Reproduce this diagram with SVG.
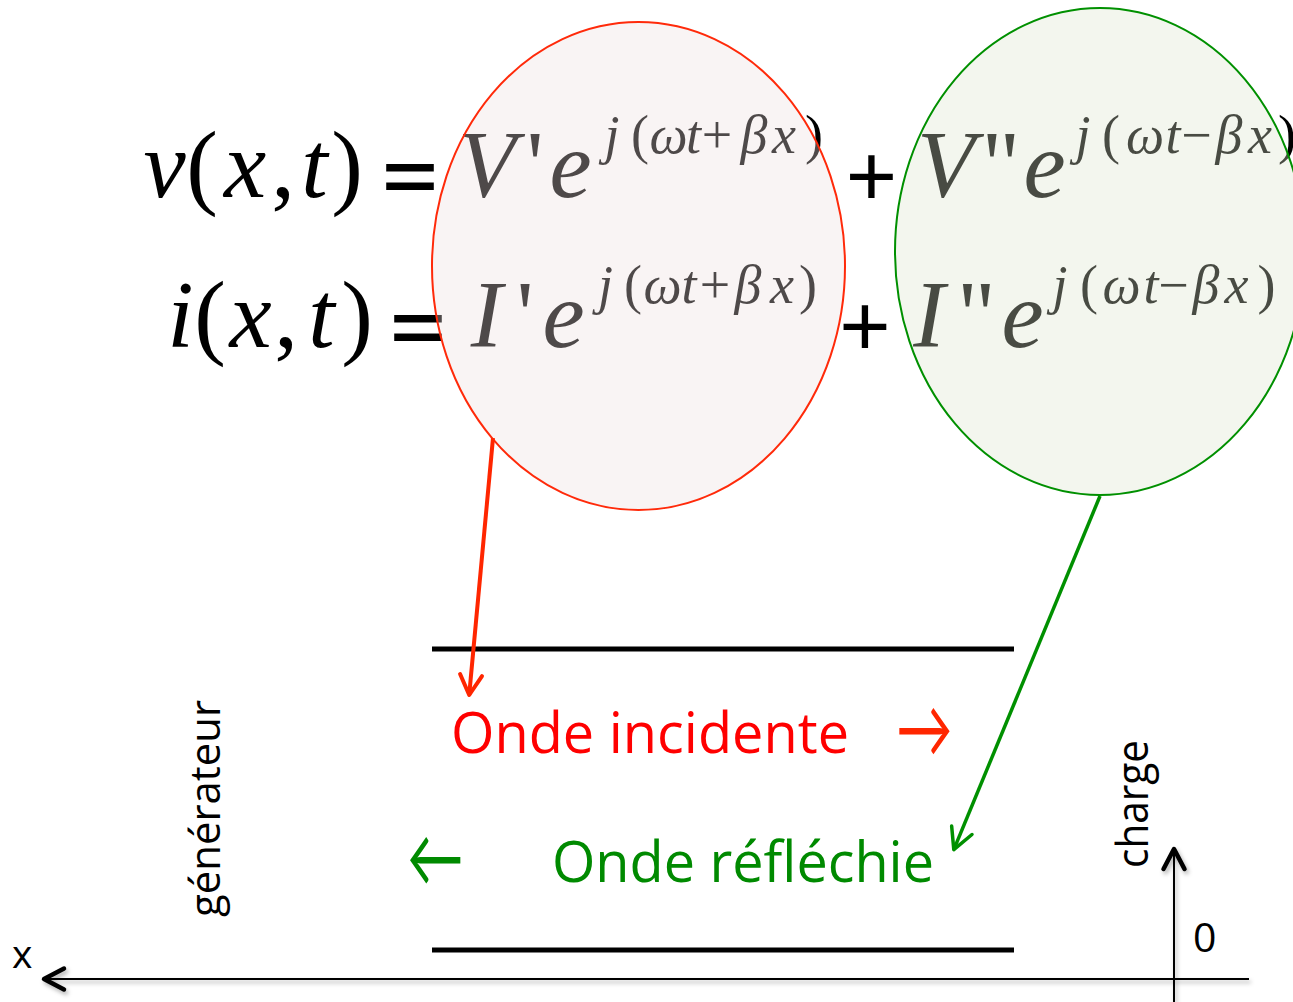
<svg xmlns="http://www.w3.org/2000/svg" width="1293" height="1002" viewBox="0 0 1293 1002">
<style>
.eq{font-family:"Liberation Serif","Times New Roman",serif;fill:#000;text-anchor:middle}
.b{font-size:95px}
.s{font-size:54px}
.it{font-style:italic}
.eqop{font-family:"Liberation Sans",Arial,sans-serif;font-weight:bold;font-size:95px;text-anchor:middle;fill:#000}
.plus{font-family:"Liberation Sans",Arial,sans-serif;font-size:88px;text-anchor:middle;fill:#000}
.lbl{font-family:"Open Sans","Noto Sans",sans-serif}
.arr{font-family:Lato,Inter,sans-serif;font-size:60px}
.wire{stroke:#000;stroke-width:5;fill:none}
</style>
<defs>
<marker id="chev-red" markerUnits="userSpaceOnUse" markerWidth="30" markerHeight="30" viewBox="-26 -15 30 30" refX="0" refY="0" orient="auto">
<path d="M-20,-11 L0,0 L-20,11" fill="none" stroke="#ff2600" stroke-width="4" stroke-linecap="round" stroke-linejoin="round"/>
</marker>
<marker id="chev-green" markerUnits="userSpaceOnUse" markerWidth="30" markerHeight="30" viewBox="-26 -15 30 30" refX="0" refY="0" orient="auto">
<path d="M-21,-11 L0,0 L-21,11" fill="none" stroke="#009000" stroke-width="3.5" stroke-linecap="round" stroke-linejoin="round"/>
</marker>
<marker id="chev-black" markerUnits="userSpaceOnUse" markerWidth="30" markerHeight="30" viewBox="-26 -15 30 30" refX="0" refY="0" orient="auto">
<path d="M-20,-10.5 L0,0 L-20,10.5" fill="none" stroke="#000" stroke-width="4.5" stroke-linecap="round" stroke-linejoin="round"/>
</marker>
<filter id="shadow" x="-5%" y="-20%" width="110%" height="140%">
<feDropShadow dx="2" dy="3" stdDeviation="2" flood-color="#000" flood-opacity="0.3"/>
</filter>
</defs>

<g id="equations">
<text class="eq b" y="197"><tspan class="it" x="164.5">v</tspan><tspan x="202">(</tspan><tspan class="it" x="245">x</tspan><tspan x="283">,</tspan><tspan class="it" x="314.5">t</tspan><tspan x="347">)</tspan></text>
<text class="eqop" transform="translate(410,199.6) scale(1,0.72)">=</text>
<text class="eq b" y="197"><tspan class="it" x="487">V</tspan><tspan x="535">'</tspan><tspan class="it" x="570.5">e</tspan></text>
<text class="eq s" y="153"><tspan class="it" x="612">j</tspan><tspan x="640">(</tspan><tspan class="it" x="668.5">ω</tspan><tspan class="it" x="693.5">t</tspan><tspan x="717">+</tspan><tspan class="it" x="754">β</tspan><tspan class="it" x="784">x</tspan><tspan x="814">)</tspan></text>
<text class="plus" x="871.5" y="206">+</text>
<text class="eq b" y="197"><tspan class="it" x="946">V</tspan><tspan x="1001">"</tspan><tspan class="it" x="1044.5">e</tspan></text>
<text class="eq s" y="153"><tspan class="it" x="1083">j</tspan><tspan x="1111">(</tspan><tspan class="it" x="1145">ω</tspan><tspan class="it" x="1173">t</tspan><tspan x="1196.5">−</tspan><tspan class="it" x="1229">β</tspan><tspan class="it" x="1260">x</tspan><tspan x="1287">)</tspan></text>

<text class="eq b" y="347"><tspan class="it" x="180.5">i</tspan><tspan x="210">(</tspan><tspan class="it" x="250.5">x</tspan><tspan x="286">,</tspan><tspan class="it" x="321.5">t</tspan><tspan x="357">)</tspan></text>
<text class="eqop" transform="translate(418,350.6) scale(1,0.72)">=</text>
<text class="eq b" y="347"><tspan class="it" x="486.5">I</tspan><tspan x="525">'</tspan><tspan class="it" x="563.5">e</tspan></text>
<text class="eq s" y="303"><tspan class="it" x="605.5">j</tspan><tspan x="633">(</tspan><tspan class="it" x="662.5">ω</tspan><tspan class="it" x="689">t</tspan><tspan x="715">+</tspan><tspan class="it" x="748">β</tspan><tspan class="it" x="782">x</tspan><tspan x="808">)</tspan></text>
<text class="plus" x="865" y="356">+</text>
<text class="eq b" y="347"><tspan class="it" x="929">I</tspan><tspan x="976.5">"</tspan><tspan class="it" x="1022.5">e</tspan></text>
<text class="eq s" y="303"><tspan class="it" x="1060">j</tspan><tspan x="1089">(</tspan><tspan class="it" x="1121.5">ω</tspan><tspan class="it" x="1151">t</tspan><tspan x="1173.5">−</tspan><tspan class="it" x="1206">β</tspan><tspan class="it" x="1236.5">x</tspan><tspan x="1266.5">)</tspan></text>
</g>

<g id="node-incident">
<ellipse cx="638.5" cy="266" rx="206.5" ry="244" fill="#eddddd" fill-opacity="0.33" stroke="#ff2a0a" stroke-width="2"/>
</g>
<g id="node-reflected">
<ellipse cx="1100" cy="251.5" rx="205" ry="243.5" fill="#dae3cb" fill-opacity="0.33" stroke="#009000" stroke-width="2"/>
</g>

<g id="transmission-line">
<line class="wire" x1="432" y1="649" x2="1014" y2="649"/>
<line class="wire" x1="432" y1="950" x2="1014" y2="950"/>
</g>

<g id="label-incidente">
<text class="lbl" x="451" y="753" font-size="57" fill="#ff0000" textLength="398" lengthAdjust="spacingAndGlyphs">Onde incidente</text>
<text class="arr" transform="translate(896,757) scale(0.945,1.35)" fill="#ff2600">→</text>
</g>

<g id="label-reflechie">
<text class="lbl" x="552" y="882" font-size="57" fill="#008a00" textLength="382" lengthAdjust="spacingAndGlyphs">Onde réfléchie</text>
<text class="arr" transform="translate(407,885.5) scale(0.945,1.35)" fill="#008a00">←</text>
</g>

<g id="label-generateur">
<text class="lbl" transform="translate(220,917) rotate(-90)" font-size="42" fill="#000" textLength="217" lengthAdjust="spacingAndGlyphs">générateur</text>
</g>
<g id="label-charge">
<text class="lbl" transform="translate(1148,868) rotate(-90)" font-size="43" fill="#000" textLength="128" lengthAdjust="spacingAndGlyphs">charge</text>
</g>

<g id="axes" filter="url(#shadow)">
<line x1="1249" y1="979" x2="44" y2="979" stroke="#000" stroke-width="2" marker-end="url(#chev-black)"/>
<line x1="1174" y1="1002" x2="1174" y2="849" stroke="#000" stroke-width="2" marker-end="url(#chev-black)"/>
</g>
<g id="axis-labels">
<text class="lbl" x="1193" y="952" font-size="41" fill="#000">0</text>
<text class="lbl" x="12" y="968" font-size="39" fill="#000">x</text>
</g>

<g id="connectors">
<line x1="493" y1="438" x2="469.2" y2="695" stroke="#ff2600" stroke-width="4" marker-end="url(#chev-red)"/>
<line x1="1100" y1="496" x2="953.8" y2="849.7" stroke="#009000" stroke-width="3.5" marker-end="url(#chev-green)"/>
</g>
</svg>
